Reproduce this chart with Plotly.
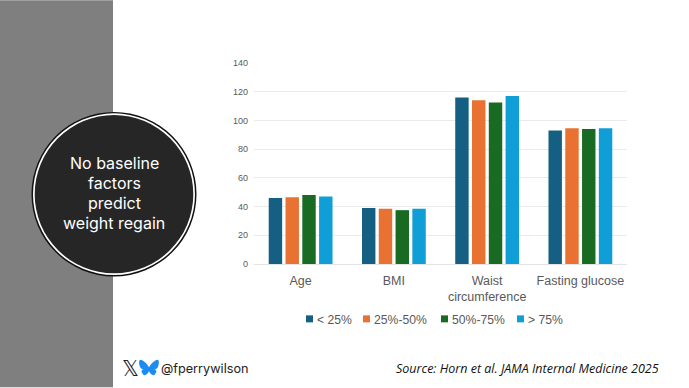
import plotly.graph_objects as go

W, H = 689, 388
L, R, T, B = 254, 627, 63, 264.5

categories = ["Age", "BMI", "Waist<br>circumference", "Fasting glucose"]
series_names = ["< 25%", "25%-50%", "50%-75%", "> 75%"]
q1 = [46, 39, 116, 93]
q2 = [46.5, 38.5, 114, 94.5]
q3 = [48, 37.5, 112.5, 94]
q4 = [47, 38.5, 117, 94.5]
colors = ["#156082", "#E97132", "#196B24", "#0F9ED5"]
tick_vals = [0, 20, 40, 60, 80, 100, 120, 140]


def fx(x):
    return (x - L) / (R - L)


def fy(y):
    return (B - y) / (B - T)


def circle(cx, cy, r, fill):
    return dict(type="circle", xref="paper", yref="paper",
                x0=fx(cx - r), x1=fx(cx + r), y0=fy(cy + r), y1=fy(cy - r),
                fillcolor=fill, line_width=0, layer="above")


def path_from(points_cmds):
    out = []
    for c in points_cmds:
        if isinstance(c, str):
            out.append(c)
        else:
            out.append(f"{fx(c[0]):.5f},{fy(c[1]):.5f}")
    return " ".join(out)


fig = go.Figure()
for name, vals, col in zip(series_names, [q1, q2, q3, q4], colors):
    fig.add_bar(name=name, x=categories, y=vals, marker=dict(color=col, line_width=0))

bx, by = 149, 369.5
def b(dx, dy):
    return (bx + dx, by + dy)
wing = path_from(["M", b(0, -1.5), "C", b(-2, -5), b(-6, -9), b(-8.5, -9), "C", b(-10.5, -9), b(-10, -4), b(-9, -2),
                  "C", b(-8.5, 0), b(-6.5, 0.5), b(-5, 0.5), "C", b(-8, 1), b(-8, 3), b(-6, 5.5), "C", b(-4, 8), b(-1.5, 5), b(0, 2.5),
                  "C", b(1.5, 5), b(4, 8), b(6, 5.5), "C", b(8, 3), b(8, 1), b(5, 0.5), "C", b(6.5, 0.5), b(8.5, 0), b(9, -2),
                  "C", b(10, -4), b(10.5, -9), b(8.5, -9), "C", b(6, -9), b(2, -5), b(0, -1.5), "Z"])

shapes = [
    dict(type="rect", xref="paper", yref="paper", x0=fx(0), x1=fx(113), y0=fy(H), y1=fy(0),
         fillcolor="#7F7F7F", line_width=0, layer="below"),
    circle(114, 194.5, 82.5, "#111111"),
    circle(114, 194.5, 81, "#FFFFFF"),
    circle(114, 194.5, 79.3, "#262626"),
    dict(type="path", xref="paper", yref="paper", path=wing, fillcolor="#1D8CF0", line_width=0, layer="above"),
]

annotations = []
for i, t in enumerate(["No baseline", "factors", "predict", "weight regain"]):
    annotations.append(dict(text=t, xref="paper", yref="paper", x=fx(114), y=fy(163 + i * 20.2), xanchor="center",
                            yanchor="middle", showarrow=False, font=dict(family="Inter", size=16, color="#FFFFFF")))
annotations += [
    dict(text="𝕏", xref="paper", yref="paper", x=fx(130), y=fy(369.5), xanchor="center", yanchor="middle",
         showarrow=False, font=dict(family="DejaVu Sans", size=21, color="#222222")),
    dict(text="@fperrywilson", xref="paper", yref="paper", x=fx(158.5), y=fy(369.5), xanchor="left", yanchor="middle",
         showarrow=False, font=dict(family="Inter", size=12.7, color="#222222")),
    dict(text="<i>Source: Horn et al. JAMA Internal Medicine 2025</i>", xref="paper", yref="paper", x=fx(661), y=fy(369),
         xanchor="right", yanchor="middle", showarrow=False, font=dict(family="Open Sans", size=12.5, color="#111111")),
]

legend_x = [306, 363, 441, 517]
for x0, name, col in zip(legend_x, series_names, colors):
    shapes.append(dict(type="rect", xref="paper", yref="paper", x0=fx(x0), x1=fx(x0 + 7), y0=fy(323), y1=fy(316),
                       fillcolor=col, line_width=0, layer="above"))
    annotations.append(dict(text=name, xref="paper", yref="paper", x=fx(x0 + 9), y=fy(320.5), xanchor="left",
                            yanchor="middle", showarrow=False,
                            font=dict(family="Liberation Sans", size=12.2, color="#595959")))

fig.update_layout(
    width=W, height=H, autosize=False,
    margin=dict(l=L, r=W - R, t=T, b=H - B),
    paper_bgcolor="#FFFFFF", plot_bgcolor="#FFFFFF",
    barmode="group", bargap=0.28, bargroupgap=0.2,
    shapes=shapes, annotations=annotations,
    showlegend=False,
    xaxis=dict(showgrid=False, showline=True, linecolor="#E4E4E4", linewidth=1, ticks="", ticklabelstandoff=5,
               tickfont=dict(family="Liberation Sans", size=12.5, color="#595959")),
    yaxis=dict(range=[0, 140], tickvals=tick_vals, gridcolor="#EAEAEA", gridwidth=1, zeroline=False, ticks="",
               ticklabelstandoff=5, tickfont=dict(family="Liberation Sans", size=9, color="#595959")),
)
fig.write_html("out.html", config={"displayModeBar": False}, post_script="document.body.style.margin='0';")
